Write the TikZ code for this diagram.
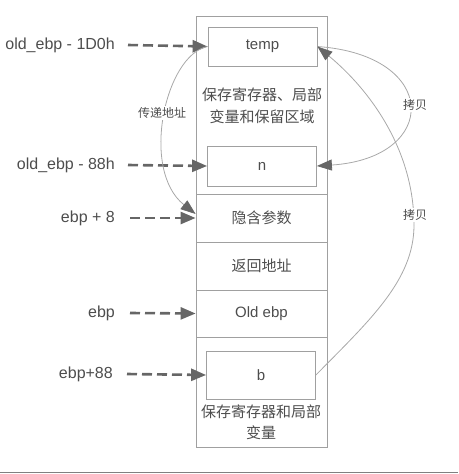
\documentclass[tikz,border=0pt]{standalone}
\usepackage{fontspec}
\setmainfont{Liberation Sans}
\newfontfamily\cjk{Noto Sans CJK SC}
\usetikzlibrary{arrows.meta}
\definecolor{txt}{HTML}{4D4D4D}
\definecolor{frame}{HTML}{A0A0A0}
\definecolor{arr}{HTML}{666666}
\definecolor{crv}{HTML}{A8A8A8}
\begin{document}
\begin{tikzpicture}[x=1pt,y=-1pt,
  cell/.style={draw=frame, line width=0.8pt, minimum width=131pt, inner sep=0pt, text=txt,
    font=\fontsize{15}{15}\selectfont, align=center},
  inbox/.style={draw=frame, line width=0.8pt, minimum width=109pt, inner sep=0pt, text=txt,
    font=\fontsize{15}{15}\selectfont},
  lbl/.style={anchor=east, text=txt, font=\fontsize{16}{16}\selectfont, inner sep=0pt},
  cjktext/.style={text=txt, font=\cjk\fontsize{15}{21.5}\selectfont, align=center, inner sep=0pt},
  ptr/.style={arr, line width=2.6pt, dash pattern=on 10pt off 5pt, -{Triangle[length=15pt,width=12pt]}},
  cpy/.style={crv, line width=0.8pt, -{Triangle[length=15pt,width=11pt,color=arr]}},
  tag/.style={text=txt, font=\cjk\fontsize{12}{12}\selectfont, fill=white, inner sep=1pt}
]
\useasboundingbox (0,0) rectangle (458,474);
% column
\node[cell, minimum height=178pt] (top) at (261.5,105) {};
\node[cell, minimum height=48pt] (hid) at (261.5,218) {\cjk 隐含参数};
\node[cell, minimum height=48pt] (ret) at (261.5,266) {\cjk 返回地址};
\node[cell, minimum height=47pt] (ob) at (261.5,313.5) {Old ebp};
\node[cell, minimum height=110pt] (bot) at (261.5,392) {};
\node[inbox, minimum height=39pt] (temp) at (262.5,46.5) {temp};
\node[inbox, minimum height=40pt] (n) at (262,166) {n};
\node[inbox, minimum height=48pt] (b) at (261,375) {b};
\node[cjktext] (toptxt) at (262,106) {保存寄存器、局部\\变量和保留区域};
\node[cjktext] (bottxt) at (261,422.5) {保存寄存器和局部\\变量};
% left labels
\node[lbl] (l1) at (115,45) {old\_ebp - 1D0h};
\node[lbl] (l2) at (115,165) {old\_ebp - 88h};
\node[lbl] (l3) at (115,218) {ebp + 8};
\node[lbl] (l4) at (115,313) {ebp};
\node[lbl] (l5) at (113,374) {ebp+88};
\draw[ptr] ([xshift=13pt]l1.east) -- (temp.west);
\draw[ptr] ([xshift=13pt]l2.east) -- (n.west);
\draw[ptr] ([xshift=15pt]l3.east) -- (hid.west);
\draw[ptr] ([xshift=15pt]l4.east) -- (ob.west);
\draw[ptr] ([xshift=14pt]l5.east) -- (b.west);
% curves
\draw[cpy] (temp.west) .. controls (165,55) and (140,170) .. ([yshift=4pt]hid.west);
\node[tag] (t1) at (162,113) {传递地址};
\draw[cpy] (temp.east) .. controls (440,55) and (440,158) .. (n.east);
\node[tag] (t2) at (415,105) {拷贝};
\coordinate (mid) at (414,225);
\draw[crv, line width=0.8pt] (b.east) .. controls (370,320) and (414,280) .. (mid);
\draw[cpy] (mid) .. controls (414,150) and (370,90) .. (temp.east);
\node[tag] (t3) at (415,215) {拷贝};
% bottom rule
\draw[color=frame!80!black, line width=1.5pt] (0,472.5) -- (458,472.5);
\end{tikzpicture}
\end{document}
